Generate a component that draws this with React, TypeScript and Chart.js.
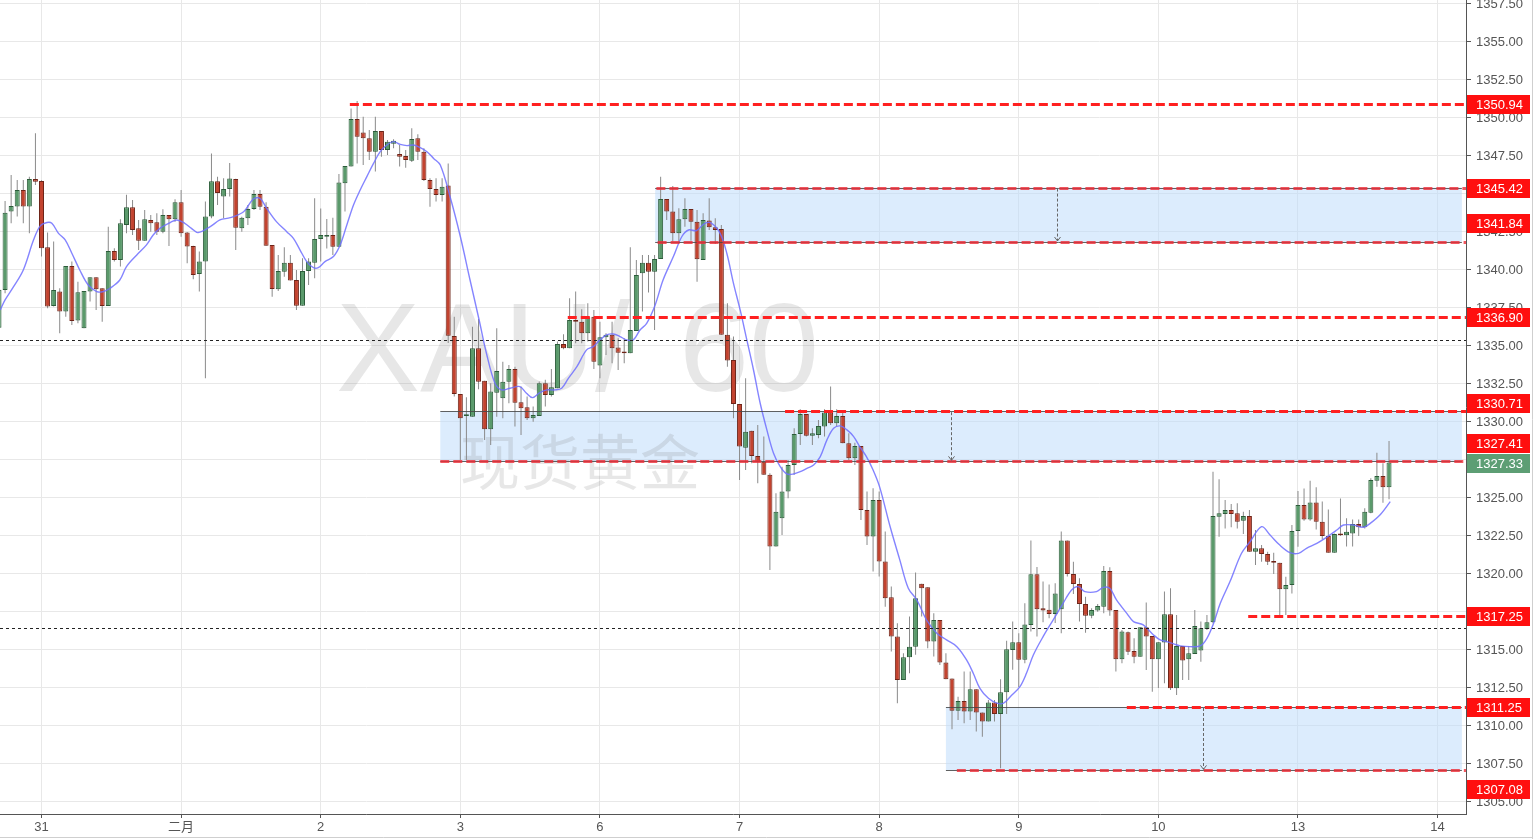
import React, { useEffect, useRef } from 'react';
import { Chart, registerables } from 'chart.js';

Chart.register(...registerables);

// ---------- data ----------
const DAY_TICKS = [7, 30, 53, 76, 99, 122, 145, 168, 191, 214, 237];
const DAY_LABELS = ['31', '二月', '2', '3', '6', '7', '8', '9', '10', '13', '14'];
const PRICE_TICKS = [1305, 1307.5, 1310, 1312.5, 1315, 1317.5, 1320, 1322.5, 1325, 1327.5, 1330, 1332.5, 1335, 1337.5, 1340, 1342.5, 1345, 1347.5, 1350, 1352.5, 1355, 1357.5];

const OPEN = [
  1336.2, 1338.69, 1343.84, 1344.17, 1345.26, 1344.17, 1345.99, 1345.86, 1341.49, 1337.63,
  1338.58, 1337.26, 1340.26, 1336.67, 1336.16, 1338.58, 1339.52, 1338.8, 1337.63, 1341.25,
  1340.66, 1342.96, 1344.12, 1342.74, 1341.93, 1343.29, 1343.14, 1342.52, 1343.62, 1343.34,
  1344.45, 1342.46, 1341.58, 1339.74, 1340.55, 1343.51, 1345.83, 1344.83, 1345.32, 1345.99,
  1342.74, 1343.4, 1344.01, 1345.0, 1344.16, 1341.64, 1338.73, 1339.89, 1340.48, 1339.34,
  1337.65, 1339.93, 1340.48, 1342.04, 1342.19, 1342.3, 1341.53, 1345.7, 1346.8, 1349.93,
  1349.05, 1348.66, 1347.78, 1349.14, 1347.89, 1348.3, 1347.63, 1347.5, 1347.19, 1348.66,
  1347.78, 1345.92, 1345.33, 1344.93, 1345.55, 1335.66, 1331.84, 1330.4, 1330.35, 1334.85,
  1332.72, 1329.52, 1331.93, 1331.56, 1332.65, 1333.49, 1331.29, 1330.97, 1330.24, 1330.4,
  1332.55, 1331.78, 1332.22, 1335.13, 1334.85, 1336.71, 1336.6, 1335.83, 1336.93, 1333.71,
  1335.57, 1335.73, 1334.9, 1334.63, 1334.52, 1335.99, 1339.78, 1340.48, 1339.89, 1340.72,
  1344.67, 1343.84, 1342.41, 1343.33, 1344.01, 1343.18, 1340.66, 1343.25, 1342.81, 1342.7,
  1335.73, 1334.08, 1331.18, 1328.31, 1329.43, 1327.76, 1327.39, 1326.52, 1321.8, 1323.66,
  1325.42, 1327.17, 1329.21, 1330.53, 1329.1, 1329.15, 1329.7, 1330.62, 1329.91, 1330.4,
  1328.6, 1327.61, 1328.42, 1324.21, 1322.46, 1324.87, 1320.82, 1318.47, 1315.88, 1313.03,
  1314.52, 1315.22, 1319.35, 1319.13, 1315.55, 1316.98, 1314.17, 1313.12, 1311.01, 1311.65,
  1310.95, 1312.42, 1310.88, 1310.29, 1311.54, 1310.79, 1312.22, 1315.0, 1315.51, 1314.35,
  1316.65, 1319.98, 1317.74, 1317.65, 1317.37, 1317.68, 1322.2, 1320.0, 1319.34, 1318.03,
  1317.26, 1317.59, 1317.85, 1320.2, 1317.63, 1314.39, 1316.17, 1314.94, 1314.56, 1316.49,
  1315.92, 1314.39, 1315.49, 1317.35, 1312.48, 1315.27, 1314.39, 1314.74, 1314.96, 1316.38,
  1316.82, 1323.77, 1323.95, 1324.21, 1323.99, 1323.51, 1323.81, 1321.47, 1321.69, 1321.31,
  1320.85, 1320.74, 1318.99, 1319.27, 1322.83, 1324.54, 1323.59, 1324.71, 1323.44, 1322.5,
  1321.4, 1322.67, 1322.54, 1322.67, 1323.29, 1323.07, 1324.03, 1326.14, 1326.44, 1325.7,
];
const HIGH = [
  1339.1, 1344.54, 1346.25, 1345.92, 1345.92, 1346.14, 1348.99, 1345.9, 1342.46, 1341.87,
  1338.8, 1340.26, 1340.55, 1339.23, 1338.62, 1339.52, 1339.52, 1338.8, 1342.85, 1341.43,
  1343.34, 1344.94, 1344.61, 1343.29, 1343.95, 1343.62, 1343.73, 1343.99, 1343.62, 1344.65,
  1345.26, 1342.5, 1341.6, 1341.21, 1344.5, 1347.67, 1346.14, 1346.03, 1347.03, 1346.0,
  1343.5, 1344.27, 1345.26, 1345.26, 1344.45, 1341.64, 1340.98, 1341.49, 1340.98, 1340.0,
  1340.77, 1340.77, 1344.71, 1344.05, 1343.35, 1343.44, 1346.31, 1346.84, 1350.63, 1351.12,
  1350.08, 1349.21, 1350.08, 1349.14, 1348.55, 1348.6, 1348.22, 1347.9, 1349.32, 1348.92,
  1348.0, 1346.03, 1346.03, 1346.03, 1347.01, 1336.93, 1331.84, 1331.62, 1336.27, 1336.78,
  1332.72, 1332.55, 1336.16, 1333.97, 1333.75, 1333.64, 1332.33, 1331.67, 1331.01, 1332.66,
  1332.77, 1333.49, 1335.29, 1335.77, 1338.14, 1338.58, 1337.41, 1337.81, 1337.37, 1336.6,
  1335.84, 1336.6, 1335.51, 1335.51, 1341.49, 1340.66, 1340.99, 1340.99, 1340.99, 1346.14,
  1344.67, 1345.53, 1344.06, 1344.72, 1344.01, 1343.95, 1343.73, 1344.72, 1343.4, 1342.96,
  1337.81, 1335.62, 1331.18, 1332.87, 1329.43, 1329.8, 1329.04, 1326.62, 1325.31, 1327.06,
  1327.5, 1329.58, 1330.83, 1330.53, 1329.58, 1330.13, 1330.83, 1332.33, 1330.83, 1330.68,
  1329.26, 1328.64, 1328.42, 1325.42, 1325.64, 1325.42, 1322.79, 1319.17, 1316.76, 1314.78,
  1317.2, 1320.09, 1319.35, 1319.13, 1317.42, 1316.98, 1314.78, 1313.12, 1311.93, 1313.58,
  1313.58, 1312.42, 1310.88, 1311.71, 1311.71, 1313.07, 1315.6, 1316.87, 1316.1, 1318.07,
  1322.2, 1320.46, 1319.5, 1319.3, 1319.39, 1322.79, 1322.2, 1320.81, 1319.72, 1318.51,
  1317.74, 1318.03, 1320.53, 1320.44, 1317.63, 1316.32, 1316.21, 1315.77, 1316.49, 1318.12,
  1315.92, 1315.51, 1318.84, 1319.06, 1317.3, 1315.27, 1315.27, 1317.63, 1316.87, 1317.3,
  1326.73, 1326.23, 1324.86, 1324.6, 1324.65, 1324.1, 1324.21, 1322.89, 1321.91, 1321.47,
  1321.4, 1320.74, 1319.82, 1323.22, 1325.46, 1325.63, 1326.14, 1325.7, 1324.76, 1324.25,
  1322.67, 1324.97, 1323.66, 1323.59, 1323.59, 1324.32, 1326.29, 1327.98, 1327.28, 1328.75,
];
const LOW = [
  1336.0, 1338.47, 1343.07, 1343.51, 1343.07, 1342.41, 1345.59, 1340.88, 1337.48, 1337.59,
  1335.83, 1336.93, 1336.38, 1336.49, 1336.16, 1337.92, 1337.37, 1336.6, 1337.63, 1340.55,
  1340.22, 1342.41, 1342.3, 1341.32, 1341.93, 1342.52, 1342.3, 1342.41, 1341.58, 1343.18,
  1342.19, 1340.44, 1339.39, 1338.58, 1332.87, 1343.4, 1344.27, 1343.4, 1344.83, 1341.31,
  1342.52, 1342.96, 1343.95, 1343.95, 1341.6, 1338.24, 1338.62, 1339.56, 1339.3, 1337.37,
  1337.65, 1339.01, 1339.45, 1340.55, 1341.42, 1340.98, 1341.53, 1343.84, 1346.8, 1347.01,
  1346.9, 1347.23, 1346.47, 1347.45, 1347.56, 1348.0, 1346.8, 1346.73, 1347.1, 1347.23,
  1345.85, 1344.16, 1344.5, 1344.5, 1335.2, 1331.67, 1327.5, 1327.5, 1330.35, 1332.15,
  1328.82, 1328.49, 1330.35, 1330.24, 1331.23, 1329.7, 1329.15, 1330.13, 1330.02, 1330.4,
  1331.01, 1331.67, 1332.22, 1334.78, 1334.85, 1335.18, 1335.18, 1335.29, 1333.49, 1332.88,
  1334.41, 1333.86, 1333.42, 1333.86, 1334.52, 1335.99, 1337.26, 1338.51, 1336.05, 1340.72,
  1343.29, 1341.87, 1341.87, 1342.85, 1341.93, 1339.23, 1340.66, 1342.63, 1341.71, 1335.73,
  1333.64, 1330.24, 1326.19, 1326.84, 1327.28, 1325.97, 1326.52, 1320.26, 1321.8, 1322.56,
  1324.98, 1326.52, 1328.49, 1329.04, 1328.49, 1328.93, 1329.04, 1329.8, 1329.7, 1328.6,
  1327.5, 1327.17, 1323.55, 1321.91, 1320.16, 1319.83, 1317.85, 1314.9, 1311.5, 1313.03,
  1313.47, 1314.68, 1317.2, 1315.11, 1314.57, 1314.02, 1313.07, 1309.78, 1310.4, 1310.18,
  1310.4, 1309.63, 1309.3, 1310.29, 1310.29, 1307.22, 1310.79, 1313.7, 1312.57, 1314.12,
  1316.21, 1315.88, 1316.83, 1317.09, 1316.78, 1316.1, 1319.83, 1318.69, 1316.87, 1316.14,
  1317.09, 1317.52, 1317.41, 1317.26, 1313.58, 1314.12, 1314.67, 1314.12, 1314.56, 1313.69,
  1312.26, 1312.5, 1312.81, 1312.37, 1312.04, 1313.03, 1313.03, 1314.74, 1314.23, 1316.32,
  1316.76, 1322.45, 1323.0, 1323.07, 1323.0, 1322.63, 1321.47, 1320.59, 1320.81, 1320.59,
  1320.0, 1317.19, 1317.3, 1318.72, 1321.79, 1323.5, 1323.5, 1322.93, 1322.28, 1321.4,
  1321.4, 1322.5, 1321.8, 1321.8, 1322.5, 1323.0, 1323.99, 1325.74, 1324.69, 1324.91,
];
const CLOSE = [
  1338.7, 1343.77, 1344.21, 1345.26, 1344.17, 1345.99, 1345.81, 1341.43, 1337.59, 1338.69,
  1337.26, 1340.26, 1336.65, 1338.53, 1338.62, 1339.52, 1338.73, 1337.63, 1341.25, 1340.66,
  1343.07, 1344.12, 1342.63, 1341.93, 1343.34, 1343.07, 1342.52, 1343.62, 1343.34, 1344.45,
  1342.41, 1341.54, 1339.67, 1340.55, 1343.51, 1345.83, 1345.06, 1345.32, 1346.01, 1342.78,
  1343.44, 1344.01, 1345.0, 1344.16, 1341.6, 1338.75, 1339.93, 1340.48, 1339.3, 1337.65,
  1339.93, 1340.55, 1342.04, 1342.3, 1342.3, 1341.53, 1345.76, 1346.84, 1349.93, 1348.77,
  1348.66, 1347.78, 1349.14, 1347.89, 1348.44, 1348.5, 1347.45, 1347.23, 1348.62, 1347.78,
  1345.92, 1345.33, 1344.93, 1345.48, 1335.68, 1331.84, 1330.24, 1330.5, 1334.85, 1332.65,
  1329.52, 1332.0, 1333.36, 1332.65, 1333.49, 1331.27, 1330.9, 1330.24, 1330.46, 1332.55,
  1331.78, 1332.28, 1335.13, 1334.85, 1336.71, 1336.6, 1335.83, 1336.89, 1333.97, 1335.57,
  1335.73, 1334.85, 1334.56, 1334.52, 1336.05, 1339.67, 1340.48, 1339.89, 1340.72, 1344.67,
  1343.84, 1342.41, 1343.33, 1344.01, 1343.18, 1340.7, 1343.29, 1342.81, 1342.63, 1335.73,
  1334.04, 1331.18, 1328.38, 1329.36, 1327.76, 1327.39, 1326.52, 1321.8, 1324.1, 1325.42,
  1327.17, 1329.21, 1330.53, 1329.1, 1329.26, 1329.74, 1330.62, 1329.91, 1330.4, 1328.6,
  1327.61, 1328.42, 1324.21, 1322.46, 1324.87, 1320.82, 1318.4, 1315.88, 1313.03, 1314.52,
  1315.22, 1318.4, 1319.06, 1315.55, 1316.98, 1314.17, 1313.07, 1311.01, 1311.65, 1310.95,
  1312.42, 1310.88, 1310.29, 1311.54, 1310.79, 1312.22, 1315.05, 1315.51, 1314.35, 1316.67,
  1319.98, 1317.68, 1317.59, 1317.37, 1318.71, 1322.2, 1320.0, 1319.34, 1318.03, 1317.26,
  1317.63, 1317.9, 1320.2, 1317.59, 1314.39, 1316.21, 1314.89, 1314.56, 1316.49, 1315.88,
  1314.39, 1315.51, 1317.35, 1312.48, 1315.27, 1314.3, 1314.78, 1316.58, 1316.43, 1316.82,
  1323.82, 1323.99, 1324.21, 1323.95, 1323.44, 1323.81, 1321.47, 1321.69, 1321.31, 1320.81,
  1320.74, 1318.99, 1319.27, 1322.83, 1324.54, 1323.59, 1324.71, 1323.44, 1322.5, 1321.4,
  1322.63, 1322.54, 1322.78, 1323.29, 1323.07, 1324.1, 1326.18, 1326.44, 1325.7, 1327.33,
];

// moving average line (bar index, price)
const MA_X = [
  0.2, 1.0, 2.4, 4.0, 5.7, 6.8, 7.9, 8.7, 9.8, 10.9, 12.0, 13.3, 14.7, 16.1, 17.2, 18.3, 19.9, 21.0, 22.7, 24.3,
  25.4, 26.5, 28.2, 29.3, 30.6, 31.7, 32.8, 34.8, 36.4, 38.1, 40.3, 41.9, 43.0, 44.1, 45.7, 47.4, 48.5, 49.6,
  50.7, 51.8, 52.6, 53.7, 55.1, 56.2, 57.3, 58.4, 59.5, 60.6, 61.7, 62.8, 63.9, 65.0, 66.1, 67.2, 68.3, 69.4,
  70.5, 71.6, 72.7, 74.3, 76.0, 77.6, 79.1, 80.3, 81.7, 82.8, 84.2, 85.8, 86.9, 87.9, 89.1, 90.2, 91.6, 92.7,
  93.8, 95.2, 96.8, 97.9, 99.0, 100.1, 101.2, 102.3, 103.4, 104.5, 105.6, 106.7, 108.1, 109.4, 111.1, 112.5,
  113.6, 114.9, 116.3, 117.4, 118.8, 119.9, 121.0, 122.1, 123.2, 124.3, 125.4, 126.5, 127.6, 128.7, 129.8,
  130.9, 132.0, 133.1, 134.2, 135.3, 136.4, 137.5, 138.6, 139.7, 140.8, 141.8, 142.9, 144.0, 145.1, 146.8,
  148.4, 149.8, 151.2, 152.8, 154.5, 156.1, 157.8, 159.4, 160.5, 161.6, 163.0, 164.4, 165.5, 166.6, 168.2,
  169.3, 170.4, 172.1, 173.7, 175.3, 176.7, 177.8, 178.9, 180.8, 181.9, 183.0, 184.1, 185.8, 186.9, 188.5,
  190.2, 191.3, 192.4, 193.5, 194.6, 196.2, 197.9, 199.0, 200.1, 201.2, 202.8, 204.7, 206.1, 208.0, 209.4,
  211.0, 212.7, 214.1, 215.4, 217.1, 218.7, 220.4, 221.5, 223.1, 224.8, 225.9, 227.5, 229.2,
];
const MA_Y = [
  1337.37, 1338.03, 1338.9, 1340.0, 1341.98, 1342.9, 1343.12, 1343.07, 1342.41, 1341.98, 1341.1, 1340.0, 1339.01, 1338.58, 1338.58, 1338.8, 1339.34, 1340.22, 1340.99, 1341.65,
  1342.3, 1342.74, 1343.12, 1343.29, 1343.07, 1342.74, 1342.46, 1342.85, 1343.29, 1343.44, 1343.83, 1344.67, 1344.71, 1344.05, 1343.18, 1342.52, 1342.08, 1341.31,
  1340.55, 1340.15, 1340.15, 1340.55, 1340.88, 1341.64, 1342.96, 1344.27, 1345.26, 1346.14, 1347.01, 1347.78, 1348.22, 1348.44, 1348.26, 1348.18, 1348.22, 1348.05,
  1347.78, 1347.34, 1346.9, 1344.83, 1342.2, 1339.34, 1336.71, 1334.52, 1332.55, 1332.11, 1332.22, 1332.33, 1331.89, 1331.6, 1331.93, 1332.11, 1332.11, 1332.22,
  1332.87, 1333.64, 1334.74, 1334.96, 1335.4, 1335.73, 1335.79, 1335.62, 1335.4, 1335.4, 1336.05, 1336.49, 1337.7, 1339.34, 1340.88, 1342.2,
  1342.63, 1342.59, 1343.07, 1343.07, 1342.41, 1341.1, 1339.12, 1337.37, 1335.4, 1333.42, 1331.23, 1329.48, 1327.94, 1327.06, 1326.58,
  1326.58, 1326.73, 1326.95, 1327.17, 1327.72, 1328.82, 1329.58, 1329.74, 1329.48, 1329.04, 1328.38, 1327.72, 1326.84, 1325.7, 1323.12,
  1320.93, 1319.06, 1318.29, 1316.98, 1316.1, 1315.66, 1315.22, 1314.35, 1313.47, 1312.48, 1311.82, 1311.5, 1311.5, 1311.93, 1312.59,
  1313.5, 1314.67, 1315.94, 1317.0, 1318.07, 1318.95, 1319.17, 1318.84, 1318.84, 1319.12, 1319.06, 1318.29, 1317.41, 1316.87, 1316.65,
  1315.99, 1315.66, 1315.55, 1315.4, 1315.27, 1315.22, 1315.27, 1315.77, 1316.76, 1318.07, 1319.5, 1321.36, 1322.12, 1323.11, 1322.56,
  1321.9, 1321.4, 1321.36, 1321.69, 1322.01, 1322.41, 1322.89, 1323.22, 1323.22, 1323.07, 1323.33, 1323.88, 1324.76,
];

// drawn levels and zones
const RED_LEVELS = [1350.94, 1336.9, 1330.71, 1317.25, 1311.25];
const RED_LEVEL_FROM = [57.8, 93.7, 129.5, 205.8, 185.8];
const EDGE_LEVELS = [1345.42, 1341.84, 1327.41, 1307.08];
const EDGE_LEVEL_FROM = [108.3, 108.5, 72.7, 157.8];
const ZONE_TOP = [1345.42, 1330.71, 1311.25];
const ZONE_BOTTOM = [1341.84, 1327.41, 1307.08];
const ZONE_FROM = [108.1, 72.7, 156.0];
const ZONE_TO = [241.0, 241.0, 241.0];
const ZONE_ARROW = [174.3, 156.8, 198.3];
const DOTTED_LEVELS = [1335.37, 1316.42];
const TAG_TEXT = ['1350.94', '1345.42', '1341.84', '1336.90', '1330.71', '1327.41', '1327.33', '1317.25', '1311.25', '1307.08'];
const TAG_AT = [1350.94, 1345.42, 1343.09, 1336.9, 1331.25, 1328.62, 1327.3, 1317.25, 1311.25, 1305.86];
const TAG_IS_LAST = [false, false, false, false, false, false, true, false, false, false];

const X_MIN = 0.163;
const X_MAX = 241.68;
const Y_MIN = 1304.21;
const Y_MAX = 1357.76;

const FONT = '"Liberation Sans", Arial, "Noto Sans CJK SC", sans-serif';
const GREEN_FILL = '#5a9a6b';
const GREEN_EDGE = '#2c5c3a';
const RED_FILL = '#c2432f';
const RED_EDGE = '#6e2418';

const overlay = {
  id: 'overlay',
  beforeDatasetsDraw(chart: any) {
    const { ctx, chartArea: a } = chart;
    const x = chart.scales.x;
    const y = chart.scales.y;
    ctx.save();
    ctx.beginPath();
    ctx.rect(a.left, a.top, a.right - a.left, a.bottom - a.top);
    ctx.clip();
    // zones
    for (let i = 0; i < ZONE_TOP.length; i++) {
      const x0 = x.getPixelForValue(ZONE_FROM[i]);
      const x1 = x.getPixelForValue(ZONE_TO[i]);
      const y0 = y.getPixelForValue(ZONE_TOP[i]);
      const y1 = y.getPixelForValue(ZONE_BOTTOM[i]);
      ctx.fillStyle = 'rgba(185,218,252,0.5)';
      ctx.fillRect(x0, y0, x1 - x0, y1 - y0);
    }
    // watermark
    ctx.fillStyle = 'rgba(110,110,110,0.17)';
    ctx.textBaseline = 'alphabetic';
    ctx.textAlign = 'left';
    ctx.font = `126px ${FONT}`;
    ctx.fillText('XAU/', 336, 391);
    ctx.fillText('60', 679, 391);
    ctx.font = `60px "Noto Sans CJK SC", ${FONT}`;
    ctx.textBaseline = 'middle';
    ctx.fillText('现货黄金', 460, 462);
    ctx.restore();
  },
  afterDatasetsDraw(chart: any) {
    const { ctx, chartArea: a } = chart;
    const x = chart.scales.x;
    const y = chart.scales.y;
    const right = a.right;
    ctx.save();
    ctx.beginPath();
    ctx.rect(a.left, a.top, a.right - a.left, a.bottom - a.top);
    ctx.clip();
    // dotted black levels
    ctx.strokeStyle = '#222';
    ctx.lineWidth = 1;
    ctx.setLineDash([3, 3]);
    for (const v of DOTTED_LEVELS) {
      const yy = Math.round(y.getPixelForValue(v)) + 0.5;
      ctx.beginPath();
      ctx.moveTo(a.left, yy);
      ctx.lineTo(right, yy);
      ctx.stroke();
    }
    // zone edges: gray solid lines
    ctx.setLineDash([]);
    ctx.strokeStyle = 'rgba(70,70,70,0.85)';
    ctx.lineWidth = 1;
    for (let i = 0; i < ZONE_TOP.length; i++) {
      const x0 = x.getPixelForValue(ZONE_FROM[i]);
      const x1 = x.getPixelForValue(ZONE_TO[i]);
      for (const v of [ZONE_TOP[i], ZONE_BOTTOM[i]]) {
        const yy = Math.round(y.getPixelForValue(v)) + 0.5;
        ctx.beginPath();
        ctx.moveTo(x0, yy);
        ctx.lineTo(x1, yy);
        ctx.stroke();
      }
    }
    // red dashes along zone edges (softer)
    ctx.setLineDash([9, 4]);
    ctx.strokeStyle = 'rgba(238,45,55,0.8)';
    ctx.lineWidth = 3;
    for (let i = 0; i < EDGE_LEVELS.length; i++) {
      const yy = Math.round(y.getPixelForValue(EDGE_LEVELS[i])) + 0.5;
      const x0 = x.getPixelForValue(EDGE_LEVEL_FROM[i]);
      ctx.beginPath();
      ctx.moveTo(x0, yy);
      ctx.lineTo(right, yy);
      ctx.stroke();
    }
    // measuring arrows
    for (let i = 0; i < ZONE_TOP.length; i++) {
      const ax = Math.round(x.getPixelForValue(ZONE_ARROW[i])) + 0.5;
      const ya = y.getPixelForValue(ZONE_TOP[i]);
      const yb = y.getPixelForValue(ZONE_BOTTOM[i]);
      ctx.strokeStyle = '#666';
      ctx.lineWidth = 1;
      ctx.setLineDash([3, 2]);
      ctx.beginPath();
      ctx.moveTo(ax, ya + 1);
      ctx.lineTo(ax, yb - 1);
      ctx.stroke();
      ctx.setLineDash([]);
      ctx.beginPath();
      ctx.moveTo(ax - 3, yb - 5);
      ctx.lineTo(ax, yb - 1);
      ctx.lineTo(ax + 3, yb - 5);
      ctx.stroke();
    }
    // standalone red levels
    ctx.strokeStyle = '#ff2020';
    ctx.lineWidth = 3;
    ctx.setLineDash([9, 4]);
    for (let i = 0; i < RED_LEVELS.length; i++) {
      const yy = Math.round(y.getPixelForValue(RED_LEVELS[i])) + 0.5;
      const x0 = x.getPixelForValue(RED_LEVEL_FROM[i]);
      ctx.beginPath();
      ctx.moveTo(x0, yy);
      ctx.lineTo(right, yy);
      ctx.stroke();
    }
    ctx.restore();
  },
  afterDraw(chart: any) {
    const { ctx, chartArea: a } = chart;
    const y = chart.scales.y;
    ctx.save();
    ctx.font = `13px ${FONT}`;
    ctx.textBaseline = 'middle';
    ctx.textAlign = 'left';
    for (let i = 0; i < TAG_TEXT.length; i++) {
      const yy = Math.round(y.getPixelForValue(TAG_AT[i]));
      ctx.fillStyle = TAG_IS_LAST[i] ? '#5d9e74' : '#ff0f0f';
      ctx.fillRect(a.right + 1, yy - 9, 63, 19);
      ctx.fillStyle = '#ffffff';
      ctx.fillText(TAG_TEXT[i], a.right + 10, yy + 1);
    }
    // outer frame on the right / bottom
    ctx.strokeStyle = '#cfcfcf';
    ctx.lineWidth = 1;
    ctx.beginPath();
    ctx.moveTo(1532.5, 0);
    ctx.lineTo(1532.5, 839);
    ctx.moveTo(0, 837.5);
    ctx.lineTo(1533, 837.5);
    ctx.stroke();
    ctx.restore();
  },
};

export default function App() {
  const ref = useRef<HTMLCanvasElement | null>(null);
  useEffect(() => {
    if (!ref.current) return;
    const wicks = OPEN.map((_, i) => ({ x: i, y: [LOW[i], HIGH[i]] }));
    const bodies = OPEN.map((o, i) => ({ x: i, y: [Math.min(o, CLOSE[i]), Math.max(o, CLOSE[i])] }));
    const up = OPEN.map((o, i) => CLOSE[i] >= o);
    const ma = MA_X.map((v, i) => ({ x: v, y: MA_Y[i] }));
    const chart = new Chart(ref.current, {
      type: 'bar',
      data: {
        datasets: [
          {
            type: 'line',
            data: ma,
            borderColor: 'rgba(110,110,255,0.85)',
            borderWidth: 1.4,
            pointRadius: 0,
            tension: 0.35,
            order: 1,
          } as any,
          {
            data: bodies,
            backgroundColor: up.map((u) => (u ? GREEN_FILL : RED_FILL)),
            borderColor: up.map((u) => (u ? GREEN_EDGE : RED_EDGE)),
            borderWidth: 1,
            borderSkipped: false,
            barThickness: 5,
            minBarLength: 1,
            grouped: false,
            inflateAmount: 0,
            order: 2,
          } as any,
          {
            data: wicks,
            backgroundColor: '#8a8a8a',
            borderWidth: 0,
            barThickness: 1,
            grouped: false,
            inflateAmount: 0,
            order: 3,
          } as any,
        ],
      },
      options: {
        responsive: false,
        devicePixelRatio: 1,
        animation: false,
        events: [],
        layout: { padding: 0, autoPadding: false } as any,
        plugins: { legend: { display: false }, tooltip: { enabled: false } },
        scales: {
          x: {
            type: 'linear',
            min: X_MIN,
            max: X_MAX,
            offset: false,
            afterBuildTicks: (s: any) => {
              s.ticks = DAY_TICKS.map((v) => ({ value: v }));
            },
            afterFit: (s: any) => {
              s.height = 25;
              s.paddingLeft = 0;
              s.paddingRight = 0;
            },
            ticks: {
              autoSkip: false,
              maxRotation: 0,
              padding: 2,
              color: '#555',
              font: { size: 13, family: FONT },
              callback: (v: any) => {
                const k = DAY_TICKS.indexOf(Number(v));
                return k >= 0 ? DAY_LABELS[k] : '';
              },
            },
            grid: { offset: false, color: '#e8e8e8', tickColor: '#555', tickLength: 4, lineWidth: 1 },
            border: { display: true, color: '#555' },
          },
          y: {
            type: 'linear',
            position: 'right',
            min: Y_MIN,
            max: Y_MAX,
            afterBuildTicks: (s: any) => {
              s.ticks = PRICE_TICKS.map((v) => ({ value: v }));
            },
            afterFit: (s: any) => {
              s.width = 73;
              s.paddingTop = 0;
              s.paddingBottom = 0;
            },
            ticks: {
              padding: 5,
              color: '#555',
              font: { size: 13, family: FONT },
              callback: (v: any) => Number(v).toFixed(2),
            },
            grid: { color: '#e8e8e8', tickColor: '#555', tickLength: 5, lineWidth: 1 },
            border: { display: true, color: '#555' },
          },
        },
      } as any,
      plugins: [overlay],
    });
    return () => chart.destroy();
  }, []);
  return (
    <div style={{ position: 'fixed', left: 0, top: 0, width: 1539, height: 839, background: '#fff' }}>
      <canvas ref={ref} width={1539} height={839} style={{ display: 'block' }} />
    </div>
  );
}
